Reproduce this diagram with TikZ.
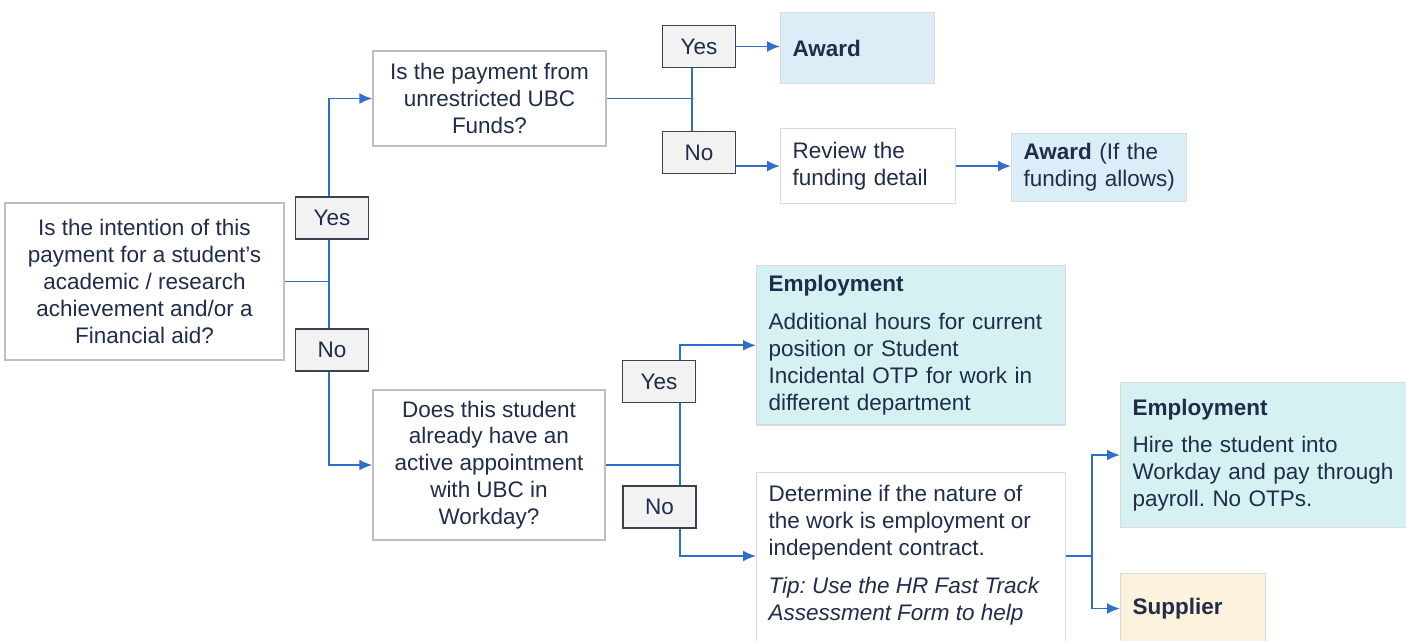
\documentclass[tikz,border=0pt]{standalone}
\usepackage{fontspec}
\setmainfont{Liberation Sans}
\usetikzlibrary{arrows.meta, backgrounds}
\definecolor{navy}{HTML}{1F2D4A}
\definecolor{flowblue}{HTML}{2F6FCB}
\definecolor{qline}{HTML}{BFBFBF}
\definecolor{lblline}{HTML}{3A4252}
\definecolor{lblfill}{HTML}{F2F2F2}
\definecolor{awardfill}{HTML}{DBEEF7}
\definecolor{empfill}{HTML}{D5F1F1}
\definecolor{supfill}{HTML}{FCF2DD}
\definecolor{outline}{HTML}{DADADA}
\frenchspacing
\tikzset{
  every node/.style={font=\fontsize{12.8}{15.3}\selectfont, text=navy},
  qbox/.style={draw=qline, fill=white, line width=0.8pt, align=center},
  answer/.style={draw=lblline, fill=lblfill, line width=1pt, minimum width=1.46cm, minimum height=0.84cm, inner sep=0pt},
  outbox/.style={draw=outline, line width=0.6pt, anchor=north west, align=left, inner xsep=0.24cm, inner ysep=0.2cm},
  link/.style={draw=flowblue, line width=1.1pt},
  arr/.style={link, -{Latex[length=2.6mm, width=2.2mm]}},
}
\begin{document}
\begin{tikzpicture}[x=0.02cm, y=-0.02cm]
		\useasboundingbox (0,0) rectangle (1406,641);
		\clip (0,0) rectangle (1406,641);
		\node(q1) [qbox, minimum width=5.58cm, minimum height=3.14cm] at (144.5,281.5) {Is the intention of this\\payment for a student’s\\academic / research\\achievement and/or a\\Financial aid?};
		\node(q2) [qbox, minimum width=4.66cm, minimum height=1.9cm] at (489.5,98.5) {Is the payment from\\unrestricted UBC\\Funds?};
		\node(q3) [qbox, minimum width=4.64cm, minimum height=3cm] at (489,465) {Does this student\\already have an\\active appointment\\with UBC in\\Workday?};
		
		\node(yes1) [answer] at (332,218) {Yes};
		\node(no1) [answer] at (332,350) {No};
		\node(yes2) [answer] at (699,46.5) {Yes};
		\node(no2) [answer] at (699,152.5) {No};
		\node(yes3) [answer] at (659,381.5) {Yes};
		\node(no3) [answer] at (659.5,507) {No};
		
		\node(award) [outbox, fill=awardfill, text width=2.6cm, minimum height=1.42cm] at (780,12) {\textbf{Award}};
		\node(review) [outbox, fill=white, text width=3.02cm, minimum height=1.5cm] at (780,128) {Review the\\funding detail};
		\node(award2) [outbox, fill=awardfill, text width=3.02cm, minimum height=1.32cm] at (1011,133) {\textbf{Award} (If the\\\mbox{funding allows)}};
		\node(emp1) [outbox, fill=empfill, text width=5.7cm, minimum height=3.14cm] at (756,265) {\textbf{Employment}\\[0.22cm]Additional hours for current\\position or Student\\Incidental OTP for work in\\different department};
		\node(det) [outbox, fill=white, inner ysep=0.26cm] at (756,472) {\parbox[c][3.3cm][t]{5.7cm}{\raggedright Determine if the nature of\\the work is employment or\\independent contract.\\[0.22cm]{\itshape Tip: Use the HR Fast Track\\Assessment Form to help}}};
		\node(emp2) [outbox, fill=empfill, text width=5.24cm, minimum height=2.9cm] at (1120,382) {\textbf{Employment}\\[0.2cm]Hire the student into\\Workday and pay through\\payroll. No OTPs.};
		\node(sup) [outbox, fill=supfill, text width=2.42cm, minimum height=1.4cm] at (1120,573) {\textbf{Supplier}};
		
		\coordinate(j1) at (329,281.5);
		\coordinate(j2) at (692,98.5);
		\coordinate(j3) at (680,465);
		\coordinate(j3b) at (680,556);
		\coordinate(j4) at (1092,556);
		
		\begin{scope}[on background layer]
		\draw[link] (q1.east) -- (j1);
		\draw[arr] (j1) |- (q2.west);
		\draw[arr] (j1) |- (q3.west);
		\draw[link] (q2.east) -- (j2);
		\draw[link] (j2 |- yes2.south) -- (j2 |- no2.north);
		\draw[arr] (yes2.east) -- (yes2.east -| award.west);
		\draw[arr] (review.west -| no2.east) -- (review.west);
		\draw[arr] (review.east) -- (review.east -| award2.west);
		\draw[link] (q3.east) -- (j3);
		\draw[arr] (j3) |- (emp1.west);
		\draw[arr] (j3) -- (j3b) -- (j3b -| det.west);
		\draw[link] (j3b -| det.east) -- (j4);
		\draw[arr] (j4) |- (emp2.west);
		\draw[arr] (j4) |- (sup.west);
		\end{scope}
\end{tikzpicture}
\end{document}
